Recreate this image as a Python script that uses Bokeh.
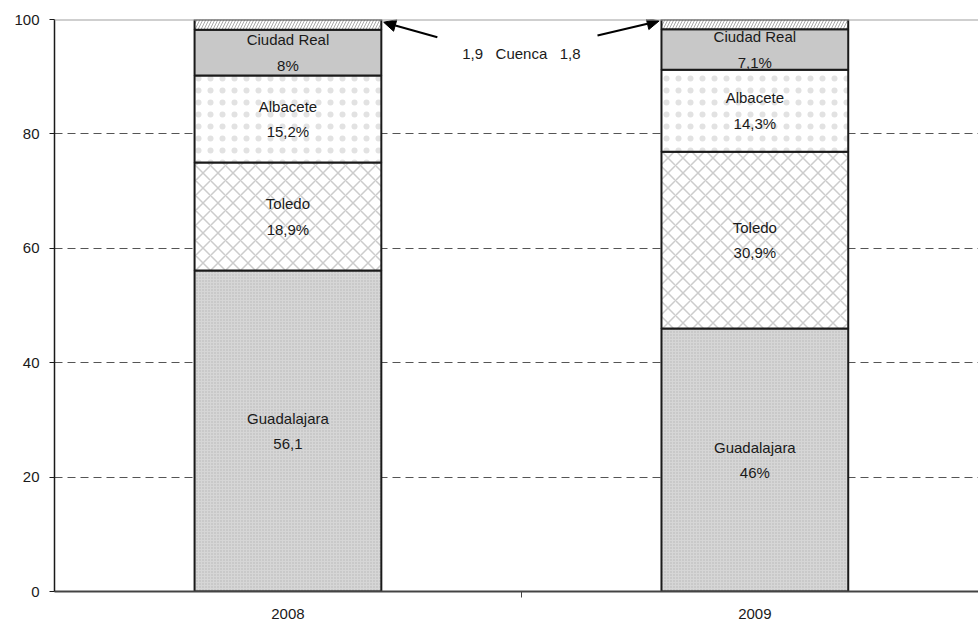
from bokeh.plotting import figure
from bokeh.models import (ColumnDataSource, FixedTicker, Span, Arrow, NormalHead, Range1d)
from bokeh.core.properties import value
from bokeh.embed import file_html
from bokeh.resources import INLINE

# ---- data ----
years = ["2008", "2009"]
provinces = ["Guadalajara", "Toledo", "Albacete", "Ciudad Real", "Cuenca"]
guadalajara = [56.1, 46.0]
toledo = [18.9, 30.9]
albacete = [15.2, 14.3]
ciudad_real = [8.0, 7.1]
cuenca = [1.9, 1.8]
guadalajara_labels = ["56,1", "46%"]
toledo_labels = ["18,9%", "30,9%"]
albacete_labels = ["15,2%", "14,3%"]
ciudad_real_labels = ["8%", "7,1%"]
cuenca_labels = ["1,9", "1,8"]
y_ticks = [0, 20, 40, 60, 80, 100]

FONT = "Liberation Sans"
FS = "15px"
series = [guadalajara, toledo, albacete, ciudad_real, cuenca]
labels = [guadalajara_labels, toledo_labels, albacete_labels, ciudad_real_labels, None]
styles = [
    dict(fill_color="#d6d6d6", hatch_pattern="dot", hatch_scale=3, hatch_color="#9c9c9c", hatch_alpha=0.6, hatch_weight=1),
    dict(fill_color="white", hatch_pattern="diagonal_cross", hatch_scale=15, hatch_color="#cccccc", hatch_weight=1.5),
    dict(fill_color="white", hatch_pattern="dot", hatch_scale=12, hatch_color="#e2e2e2", hatch_weight=0.4),
    dict(fill_color="#c8c8c8"),
    dict(fill_color="white", hatch_pattern="right_diagonal_line", hatch_scale=6, hatch_color="#a8a8a8", hatch_weight=1),
]

xs = [0.5, 1.5]
bar_w = 0.4

p = figure(width=978, height=624, output_backend="svg", toolbar_location=None,
           x_range=Range1d(0, 1.979), y_range=Range1d(0, 100),
           min_border_left=54, min_border_right=0, min_border_top=19, min_border_bottom=33)
p.outline_line_color = None
p.background_fill_color = "white"
p.border_fill_color = "white"

bottoms = [0.0, 0.0]
for name, vals, lab, st in zip(provinces, series, labels, styles):
    tops = [b + v for b, v in zip(bottoms, vals)]
    src = ColumnDataSource(dict(x=xs, bottom=list(bottoms), top=tops))
    p.vbar(x="x", bottom="bottom", top="top", width=bar_w, source=src,
           line_color="#1a1a1a", line_width=2, **st)
    if lab is not None:
        mids = [(b + t) / 2 for b, t in zip(bottoms, tops)]
        txt = [f"{name}\n{l}" for l in lab]
        tsrc = ColumnDataSource(dict(x=xs, y=mids, t=txt))
        p.text(x="x", y="y", text="t", source=tsrc, text_align="center",
               text_baseline="middle", text_font=value(FONT), text_font_size=FS,
               text_color="#1a1a1a", text_line_height=1.5)
    bottoms = tops

# Cuenca annotation
tot = bottoms
sp = "\u00a0\u00a0\u00a0"
p.text(x=[1.0], y=[94.0], text=[f"{cuenca_labels[0]}{sp}Cuenca{sp}{cuenca_labels[1]}"],
       text_align="center", text_baseline="middle", text_font=value(FONT),
       text_font_size=FS, text_color="#1a1a1a")
p.add_layout(Arrow(end=NormalHead(size=12, fill_color="black", line_color="black"),
                   x_start=0.82, y_start=96.9, x_end=xs[0] + bar_w / 2 + 0.005,
                   y_end=tot[0] - cuenca[0] / 4 - 0.1, line_width=2, line_color="black"))
p.add_layout(Arrow(end=NormalHead(size=12, fill_color="black", line_color="black"),
                   x_start=1.163, y_start=97.2, x_end=xs[1] - bar_w / 2 - 0.005,
                   y_end=tot[1] - cuenca[1] / 4 + 0.1, line_width=2, line_color="black"))

# top line
p.add_layout(Span(location=100, dimension="width", line_color="#a0a0a0", line_width=2))

# axes
p.yaxis.ticker = FixedTicker(ticks=y_ticks)
p.yaxis.axis_line_color = "#1a1a1a"
p.yaxis.axis_line_width = 1.5
p.yaxis.major_tick_in = 0
p.yaxis.major_tick_out = 5
p.yaxis.major_tick_line_color = "#1a1a1a"
p.yaxis.minor_tick_line_color = None
p.yaxis.major_label_standoff = 10
p.yaxis.major_label_text_font = FONT
p.yaxis.major_label_text_font_size = FS
p.yaxis.major_label_text_color = "#1a1a1a"

p.xaxis.ticker = FixedTicker(ticks=xs, minor_ticks=[1.0])
p.xaxis.major_label_overrides = {x: y for x, y in zip(xs, years)}
p.xaxis.axis_line_color = "#444444"
p.xaxis.axis_line_width = 2
p.xaxis.major_tick_in = 0
p.xaxis.major_tick_out = 0
p.xaxis.minor_tick_in = 0
p.xaxis.minor_tick_out = 6
p.xaxis.minor_tick_line_color = "#444444"
p.xaxis.major_label_standoff = 11
p.xaxis.major_label_text_font = FONT
p.xaxis.major_label_text_font_size = FS
p.xaxis.major_label_text_color = "#1a1a1a"

p.xgrid.grid_line_color = None
p.ygrid.ticker = FixedTicker(ticks=y_ticks[1:-1])
p.ygrid.grid_line_color = "#555555"
p.ygrid.grid_line_dash = "8 5"
p.ygrid.grid_line_width = 1
p.ygrid.level = "underlay"

open("out.html", "w").write(file_html(p, INLINE))
